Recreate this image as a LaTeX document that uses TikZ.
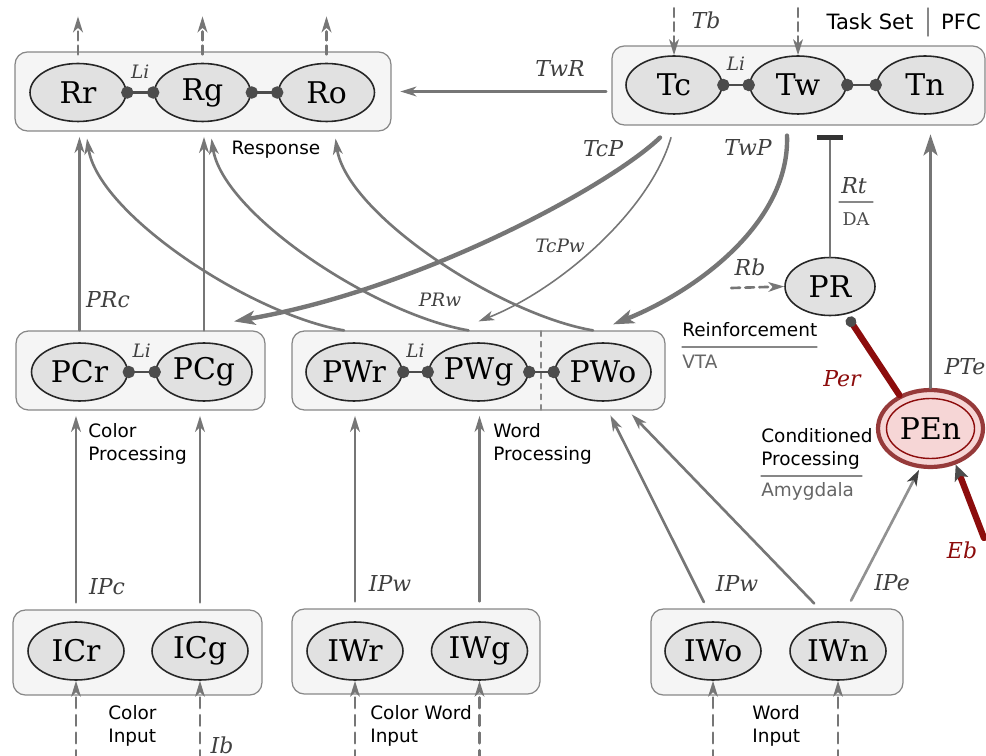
\documentclass[tikz,border=0pt]{standalone}
\usepackage{fontspec}
\setmainfont{DejaVu Serif}
\setsansfont{DejaVu Sans}
\usetikzlibrary{arrows.meta,calc,shapes.geometric}

\definecolor{wire}{RGB}{118,118,118}
\definecolor{panel}{RGB}{245,245,245}
\definecolor{rim}{RGB}{135,135,135}
\definecolor{cell}{RGB}{225,225,225}
\definecolor{blood}{RGB}{140,12,12}
\definecolor{blush}{RGB}{246,214,214}
\definecolor{rust}{RGB}{150,58,58}

\begin{document}
\begin{tikzpicture}[
	x=0.02cm,
	y=-0.02cm,
	line join=round,
	line cap=round,
	>={Stealth[length=9pt,width=5.5pt,inset=2.5pt]},
	grp/.style={draw=rim, fill=panel, rounded corners=7pt, line width=0.7pt, inner sep=0pt},
	unit/.style={ellipse, draw=black!85, fill=cell, line width=0.9pt, minimum width=1.92cm, minimum height=1.16cm, inner sep=0pt, font=\fontsize{17}{20}\selectfont},
	link/.style={arrows={Circle[length=7pt]-Circle[length=7pt]}, draw=black!70, line width=1.6pt, shorten <=-3.2pt, shorten >=-3.2pt},
	proj/.style={->, draw=wire, line width=1.5pt},
	heavy/.style={arrows={-Stealth[length=12pt,width=8pt,inset=3pt]}, draw=wire, line width=2.5pt},
	ext/.style={->, draw=wire, line width=1.5pt, dash pattern=on 6pt off 4pt},
	lab/.style={font=\fontsize{12.5}{14}\selectfont\itshape, text=black!75},
	small/.style={font=\fontsize{10.5}{12}\selectfont\itshape, text=black!75},
	note/.style={font=\sffamily\fontsize{10.5}{13}\selectfont, align=left, anchor=north west, inner sep=0pt},
	]
\useasboundingbox (0,0) rectangle (986,756);

% group boxes
\node[grp, minimum width=7.52cm, minimum height=1.58cm] (Rbox) at (203,91.5) {};
\node[grp, minimum width=7.46cm, minimum height=1.58cm] (Tbox) at (798.5,85.5) {};
\node[grp, minimum width=4.98cm, minimum height=1.58cm] (PCbox) at (140.5,370.5) {};
\node[grp, minimum width=7.46cm, minimum height=1.58cm] (PWbox) at (478.5,370.5) {};
\node[grp, minimum width=4.98cm, minimum height=1.7cm] (ICbox) at (137.5,652.5) {};
\node[grp, minimum width=4.96cm, minimum height=1.7cm] (IWbox) at (416,651.5) {};
\node[grp, minimum width=5.04cm, minimum height=1.72cm] (IObox) at (777,652) {};
\draw[rim, line width=0.8pt, dashed] (541,331) -- (541,410);

% units
\foreach \n/\x/\y in {Rr/78/92.5, Rg/202.5/92.5, Ro/326.5/92.5, Tc/674/85, Tw/798/85, Tn/925/85,
		PCr/79.5/372, PCg/204/372, PWr/354/372, PWg/478.5/372, PWo/603/372,
		ICr/76/651, ICg/200/651, IWr/355/651, IWg/479.5/651, IWo/713/651, IWn/838/651}
	\node[unit] (\n) at (\x,\y) {\n};
\node[unit, minimum width=1.8cm] (PR) at (830,286.5) {PR};
\node[unit, fill=blush, draw=rust, line width=2.4pt, minimum width=2.1cm, minimum height=1.54cm] (PEn) at (930.5,428.5) {PEn};
\draw[blood, line width=0.8pt] (PEn.center) ellipse [x radius=44, y radius=30];

% lateral inhibition
\foreach \a/\b in {Rr/Rg, Rg/Ro, Tc/Tw, Tw/Tn, PCr/PCg, PWr/PWg, PWg/PWo}
	\draw[link] (\a) -- (\b);
\foreach \a/\b in {Rr/Rg, Tc/Tw, PCr/PCg, PWr/PWg}
	\node[small] (li\a) at ($(\a.east)!0.5!(\b.west)+(0,-21)$) {Li};

% outputs and task bias
\foreach \n in {Rr, Rg, Ro}
	\draw[ext, dash pattern=on 5pt off 3pt] (\n.north |- Rbox.north) ++(0,3) -- ++(0,-38);
\foreach \n in {Tc, Tw}
	\draw[ext, dash pattern=on 5pt off 3pt] (\n.north) ++(0,-47) -- (\n.north);
\node[lab] (Tb) at (706,20) {Tb};
\node[note, anchor=center, font=\sffamily\fontsize{12}{14}\selectfont] (taskset) at (870,22) {Task Set};
\node[note, anchor=center, font=\sffamily\fontsize{12}{14}\selectfont] (pfc) at (961,22) {PFC};
\draw[rim, line width=0.8pt] (928,8) -- (928,36);

\draw[proj, shorten <=3pt, shorten >=5pt] (Tbox.west |- Rbox.east) -- (Rbox.east);
\node[lab] (TwR) at (560,68) {TwR};
\node[note, anchor=center] (resp) at (276,150) {Response};

% pathways to response
\foreach \n/\m in {PCr/Rr, PCg/Rg}
	\draw[proj, shorten >=3pt] (\n.north |- PCbox.north) -- (\n.north |- Rbox.south);
\node[lab] (PRc) at (108,300) {PRc};
\foreach \n/\m in {PWr/Rr, PWg/Rg, PWo/Ro}
	\draw[proj, shorten >=4pt] ($(\n.north |- PWbox.north)+(-10,0)$) .. controls +(-94,-16) and +(12,82) .. ($(\m.south |- Rbox.south)+(8,0)$);
\node[small] (PRw) at (440,300) {PRw};

% task set to processing
\draw[heavy] ($(Tc.south |- Tbox.south)+(-14,12)$) .. controls +(-50,48) and +(186,-32) .. ($(PCg.north |- PCbox.north)+(30,-9)$);
\draw[proj, line width=0.9pt] ($(Tc.south |- Tbox.south)+(-3,12)$) .. controls +(-21,73) and +(81,-32) .. ($(PWg.north |- PWbox.north)+(0,-9)$);
\draw[heavy] ($(Tw.south |- Tbox.south)+(-11,10)$) .. controls +(3,85) and +(87,-35) .. ($(PWo.north |- PWbox.north)+(10,-6)$);
\node[lab] (TcP) at (603,149) {TcP};
\node[small] (TcPw) at (560,246) {TcPw};
\node[lab] (TwP) at (748,147) {TwP};

% inputs to processing
\foreach \n/\b/\m/\c in {ICr/ICbox/PCr/PCbox, ICg/ICbox/PCg/PCbox, IWr/IWbox/PWr/PWbox, IWg/IWbox/PWg/PWbox}
	\draw[proj, shorten <=4pt, shorten >=3pt] (\n.north |- \b.north) -- (\n.north |- \c.south);
\draw[proj, shorten <=4pt, shorten >=3pt] ($(IWo.north |- IObox.north)+(-6,0)$) -- ($(PWo.south |- PWbox.south)+(5,0)$);
\draw[proj, shorten <=4pt, shorten >=3pt] ($(IWn.north |- IObox.north)+(-19,0)$) -- ($(PWo.south |- PWbox.south)+(25,0)$);
\draw[proj, draw=wire!80, shorten <=5pt, shorten >=1pt, arrows={-Stealth[length=9pt,width=6pt,inset=2.5pt,color=black!75]}] ($(IWn.north |- IObox.north)+(9,0)$) -- (PEn.255);
\node[lab] (IPc) at (107,587) {IPc};
\node[lab] (IPw) at (390,583) {IPw};
\node[lab] (IPwo) at (737,583) {IPw};
\node[lab] (IPe) at (892,583) {IPe};

% external input
\foreach \n in {ICr, ICg, IWr, IWg, IWo, IWn}
	\draw[ext] (\n.south) ++(0,80) -- (\n.south);
\node[lab] (Ib) at (222,745) {Ib};
\node[note] (colProc) at (88,423) {Color\\Processing};
\node[note] (wordProc) at (493,423) {Word\\Processing};
\node[note] (colIn) at (108,705) {Color\\Input};
\node[note] (cwIn) at (370,705) {Color Word\\Input};
\node[note] (wIn) at (752,705) {Word\\Input};

% reinforcement
\draw[ext, dash pattern=on 5pt off 3pt] (PR.west) ++(-53,1.5) -- (PR.west);
\node[lab] (Rb) at (750,267) {Rb};
\draw[draw=wire, line width=1.5pt, arrows={-Bar[width=15pt,line width=2.5pt,color=black!80]}, shorten >=5.5pt] (PR.north) -- (PR.north |- Tbox.south);
\node[lab] (Rt) at (854,186) {Rt};
\draw[rim, line width=0.7pt] (839,202) -- (873,202);
\node[font=\fontsize{10}{12}\selectfont, text=black!70] (DA) at (856,219) {DA};
\node[note] (reinf) at (682,322) {Reinforcement};
\draw[rim, line width=0.7pt] (682,347) -- (817,347);
\node[note, text=black!60] (vta) at (682,355) {VTA};
\node[note] (cond) at (761,428) {Conditioned\\Processing};
\draw[rim, line width=0.7pt] (761,476) -- (862,476);
\node[note, text=black!60] (amyg) at (761,482) {Amygdala};

% emotional pathway
\draw[proj, shorten >=5pt, arrows={-Stealth[length=12pt,width=8pt,inset=3pt]}] (PEn.north) -- (PEn.north |- Tbox.south);
\node[lab] (PTe) at (965,367) {PTe};
\draw[blood, line width=3.6pt, arrows={Circle[length=6pt,color=black!70]-}, shorten <=2pt] (PR.300) -- (PEn.133);
\node[lab, text=blood] (Per) at (842,379) {Per};
\coordinate (ebSrc) at (984,538);
\draw[blood, line width=3.6pt, arrows={-Stealth[length=9pt,width=8pt,inset=2pt,color=black!70]}] (ebSrc) -- (PEn.305);
\node[lab, text=blood] (Eb) at (962,550) {Eb};
\end{tikzpicture}
\end{document}
